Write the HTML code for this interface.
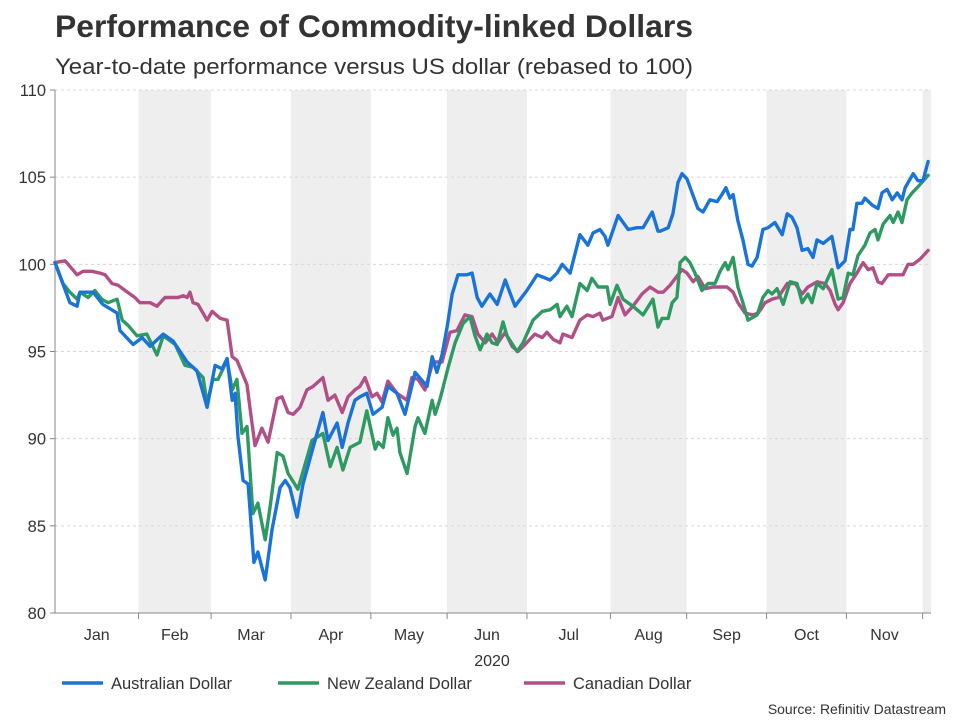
<!DOCTYPE html>
<html><head><meta charset="utf-8"><style>
body{margin:0;background:#fff;font-family:"Liberation Sans",Arial,sans-serif;}
svg text{font-family:"Liberation Sans",Arial,sans-serif;}
</style></head><body>
<svg id="chart" width="960" height="720" xmlns="http://www.w3.org/2000/svg">
<text x="55" y="37" font-size="31.5" font-weight="bold" fill="#333" textLength="638" lengthAdjust="spacingAndGlyphs">Performance of Commodity-linked Dollars</text>
<text x="55" y="74" font-size="22" fill="#333" textLength="638" lengthAdjust="spacingAndGlyphs">Year-to-date performance versus US dollar (rebased to 100)</text>
<g id="bands"></g><g id="grid"></g><g id="axes"></g><g id="series"></g>
<text x="492" y="666" font-size="16" fill="#333" text-anchor="middle">2020</text>
<g>
<g><line x1="62" y1="683" x2="103" y2="683" stroke="#1a73d9" stroke-width="3.5"/><text x="111" y="689" font-size="16.5" fill="#333">Australian Dollar</text></g>
<g><line x1="278" y1="683" x2="319" y2="683" stroke="#2e9a62" stroke-width="3.5"/><text x="327" y="689" font-size="16.5" fill="#333">New Zealand Dollar</text></g>
<g><line x1="524" y1="683" x2="565" y2="683" stroke="#b14f86" stroke-width="3.5"/><text x="573" y="689" font-size="16.5" fill="#333">Canadian Dollar</text></g>
</g>
<text x="946" y="714" font-size="14" fill="#333" text-anchor="end">Source: Refinitiv Datastream</text>
</svg>
<script>
const months = ["Jan","Feb","Mar","Apr","May","Jun","Jul","Aug","Sep","Oct","Nov","Dec"];
const monthStarts = [0,23,43,65,87,108,130,153,174,196,218,239];
const yTicks = [80,85,90,95,100,105,110];
const audDays = [0,4.1,6.1,6.9,10.5,13.2,17.1,17.9,21.5,24,26.2,29.8,32.5,36.4,39.1,41.9,44.1,46,47.4,48.8,49.6,50.4,51.8,53.2,54.8,55.9,57.9,59.8,62,63.4,64.7,66.7,68.3,71.1,73.8,75.2,77.7,79.1,80.7,82.6,84,85.9,87.6,90.1,91.7,94.2,96.4,99.2,102.5,103.9,105.2,106.6,108,109.4,111,113.5,114.9,116.3,117.6,119.8,121.8,124,126.7,130,132.8,136.4,138.3,139.7,141.9,144.6,146.8,148.2,150.1,151.5,152.3,155.1,157.9,160.3,162,164.5,166.1,166.7,168.9,170.2,171.6,172.7,174.1,175.5,177.1,178.5,180.4,182.4,183.7,184.8,185.9,186.8,188.1,189.5,190.9,192,193.4,195,196.4,198.3,200.3,201.7,203,204.4,205.8,207.4,208.8,209.9,211.6,214,215.7,217.6,219,219.8,220.9,222.3,223.1,225.1,226.7,227.8,229.2,230.6,232,233.3,234.2,236.4,237.7,239.1,240.5];
const audValues = [100.1,97.8,97.6,98.4,98.4,97.7,97.2,96.2,95.4,95.8,95.3,96.0,95.6,94.4,93.9,91.8,94.2,94.0,94.6,92.2,92.6,90.1,87.6,87.4,82.9,83.5,81.9,84.8,87.2,87.6,87.2,85.5,87.4,89.5,91.5,89.9,90.9,89.5,90.9,92.2,92.4,92.6,91.4,91.8,93.0,92.6,91.4,93.8,93.0,94.7,93.8,94.8,96.4,98.3,99.4,99.4,99.5,98.1,97.6,98.3,97.7,99.1,97.6,98.5,99.4,99.1,99.5,100.0,99.5,101.7,101.1,101.8,102.0,101.6,101.1,102.8,102.0,102.1,102.1,103.0,101.9,101.9,102.1,102.9,104.7,105.2,104.9,104.1,103.2,103.0,103.7,103.6,104.0,104.4,103.8,104.0,102.5,101.4,100.0,99.9,100.4,102.0,102.1,102.4,101.7,102.9,102.7,102.1,100.8,100.9,100.4,101.4,101.2,101.6,99.8,100.2,102.0,102.0,103.5,103.5,103.8,103.4,103.2,104.1,104.3,103.7,104.1,103.7,104.4,105.2,104.8,104.8,105.9];
const nzdDays = [0,2.2,4.1,6.1,6.9,9.1,11,12.9,14.6,17.1,18.5,20.1,22.6,25.3,28.1,29.8,33.1,35.8,38,40.8,41.9,43.5,44.9,47.4,48.8,50.1,51.5,52.9,54.5,55.9,57.9,59.2,61.2,62.8,64.2,66.9,70.8,73.8,75.8,77.7,79.3,81.3,84,85.9,88.2,89,90.4,91.7,93.1,94.2,95,97,99.2,100,101.9,103.9,104.7,106.1,108.3,110.2,112.4,114.3,115.7,117.1,119,120.4,121.8,123.4,124.5,127.3,128.9,131.7,134.2,136.4,138.3,139.1,141,142.4,144.6,146.6,147.9,149.6,152.1,152.9,154.8,156.5,159.2,162,164.7,166.1,167.2,168.9,170,171.3,172.2,173.6,174.9,176.3,178.2,179.9,181.8,183.2,184.6,185.4,186.8,188.1,189.5,190.9,193.4,195,196.4,197.5,198.9,200.6,202.5,204.4,205.8,207.4,208.5,209.9,211.6,214,215.7,217.1,218.5,219.8,221.2,223.1,224.5,225.9,226.7,228.1,230,230.9,232.2,233.3,234.7,236.1,237.5,238.8,240.5];
const nzdValues = [100.1,98.9,98.4,98.0,98.4,98.1,98.5,98.0,97.8,98.0,96.8,96.5,95.9,96.0,94.8,95.9,95.4,94.2,94.1,93.5,92.0,93.4,93.4,94.5,92.8,93.4,90.3,90.7,85.7,86.3,84.2,86.0,89.2,89.0,88.0,87.1,89.9,90.3,88.4,89.5,88.2,89.5,89.8,91.6,89.4,89.8,89.5,91.2,90.2,90.6,89.2,88.0,90.7,91.2,90.3,92.2,91.4,92.3,94.1,95.5,96.6,97.0,95.9,95.1,96.0,95.5,95.4,96.7,95.9,95.0,95.5,96.8,97.3,97.4,97.7,97.0,97.6,97.0,98.9,98.5,99.2,98.7,98.7,97.7,98.8,98.0,97.6,97.1,98.0,96.4,96.9,96.9,97.8,98.1,100.1,100.4,100.1,99.5,98.5,98.9,98.9,99.6,100.1,99.7,100.4,98.7,97.8,96.8,97.1,98.1,98.5,98.3,98.6,97.7,99.0,98.9,97.8,98.3,97.8,98.9,98.6,99.7,98.0,98.1,99.5,99.4,100.5,101.1,101.8,102.0,101.4,102.3,102.8,102.4,103.0,102.4,103.7,104.1,104.4,104.7,105.1];
const cadDays = [0,2.8,6.1,7.7,10.2,12.4,13.8,15.7,17.4,19.3,22,23.4,26.2,28.1,30.3,33.9,35.3,36.4,37.2,38,39.4,41.9,43.3,45.5,47.4,48.8,50.1,52.9,53.7,55.1,57,58.7,61.2,62.5,64.2,65.6,67.5,69.4,71.1,73.8,75.2,77.1,79.1,80.7,82.6,84,85.4,87.3,88.7,90.1,91.7,94.2,97,98.3,100,101.9,104.1,106.6,108.8,110.7,112.9,114.9,116.5,118.5,120.4,122,124,125.9,127.5,129.5,132.2,134.2,135.5,137.2,139.1,139.9,142.4,144.6,146.6,148.2,150.1,150.9,153.4,155.1,157,159.2,161.7,163.9,166.1,167.5,169.4,172.7,174.1,175.8,177.1,179.1,181.3,185.1,186.8,188.1,190.1,192.3,193.7,195.6,197.5,199.2,201.7,203.9,205.8,207.4,209.9,212.1,213.5,214.9,215.7,217.1,219,220.9,222.6,224,225.3,226.7,227.8,229.5,232,233.6,235,236.4,238.3,240.5];
const cadValues = [100.1,100.2,99.4,99.6,99.6,99.5,99.4,98.9,98.8,98.5,98.1,97.8,97.8,97.6,98.1,98.1,98.2,98.1,98.4,97.8,97.7,96.8,97.3,96.9,96.8,94.7,94.5,93.1,91.8,89.6,90.6,89.8,92.3,92.4,91.5,91.4,91.8,92.8,93.0,93.5,92.2,92.5,91.5,92.4,92.8,93.0,93.5,92.4,92.6,92.1,93.3,92.6,92.2,93.5,93.4,92.8,94.4,94.4,96.1,96.2,97.1,97.0,96.0,95.5,96.0,95.5,96.1,95.3,95.0,95.4,96.0,95.8,96.1,95.7,95.5,96.0,95.8,96.8,97.1,97.0,97.2,96.8,97.0,98.1,97.1,97.6,98.3,98.7,98.4,98.4,98.8,99.7,99.5,99.0,99.3,98.6,98.7,98.7,98.4,97.8,97.2,97.1,97.2,97.8,98.0,98.1,98.9,98.9,98.3,98.7,99.0,98.9,98.5,97.7,97.4,97.8,98.9,99.5,100.1,99.7,99.8,99.0,98.9,99.4,99.4,99.4,100.0,100.0,100.3,100.8];

const NS='http://www.w3.org/2000/svg';
const L=55,R=931,T=90,B=613,D0=0,D1=241.3,V0=80,V1=110;
function xs(d){return L+(d-D0)/(D1-D0)*(R-L);}
function ys(v){return B-(v-V0)/(V1-V0)*(B-T);}
function mk(tag,attrs,parent){const e=document.createElementNS(NS,tag);for(const k in attrs)e.setAttribute(k,attrs[k]);parent.appendChild(e);return e;}
const bands=document.getElementById('bands'),grid=document.getElementById('grid'),axes=document.getElementById('axes'),series=document.getElementById('series');
for(let i=0;i<months.length;i++){
  const s=monthStarts[i],e=i+1<monthStarts.length?monthStarts[i+1]:D1;
  if(i%2===1){
    const r=mk('rect',{x:xs(s),y:T,width:Math.min(xs(e),R)-xs(s),height:B-T,fill:'#eeeeee'},bands);
    
    
  }
  if(i<11){
    const t=mk('text',{x:(xs(s)+xs(e))/2,y:640,'font-size':16,fill:'#333','text-anchor':'middle'},axes);
    t.textContent=months[i];
    
    
  }
  if(i>0){
    const tk=mk('line',{x1:xs(s),x2:xs(s),y1:B,y2:B+6,stroke:'#888','stroke-width':1},axes);
    
    
  }
}
yTicks.forEach(v=>{
  const g=mk('line',{x1:L,x2:R,y1:ys(v),y2:ys(v),stroke:'#d8d8d8','stroke-dasharray':'3,3','stroke-width':1},grid);
  
  
  const tk=mk('line',{x1:L-5,x2:L,y1:ys(v),y2:ys(v),stroke:'#888'},axes);
  
  
  const t=mk('text',{x:L-9,y:ys(v)+6,'font-size':16.5,fill:'#333','text-anchor':'end'},axes);
  t.textContent=v;
  
  
});
const ya=mk('line',{x1:L,x2:L,y1:T,y2:B,stroke:'#888'},axes);


const xa=mk('line',{x1:L,x2:R,y1:B,y2:B,stroke:'#888'},axes);


function line(days,vals,color,name){
  const d=days.map((dd,i)=>(i?'L':'M')+xs(dd).toFixed(1)+','+ys(vals[i]).toFixed(1)).join(' ');
  const p=mk('path',{d:d,fill:'none',stroke:color,'stroke-width':3.4,'stroke-linejoin':'round','stroke-linecap':'round'},series);
  
  
}
line(cadDays,cadValues,'#b14f86','line-canadian-dollar');
line(nzdDays,nzdValues,'#2e9a62','line-new-zealand-dollar');
line(audDays,audValues,'#1a73d9','line-australian-dollar');
</script>
</body></html>
